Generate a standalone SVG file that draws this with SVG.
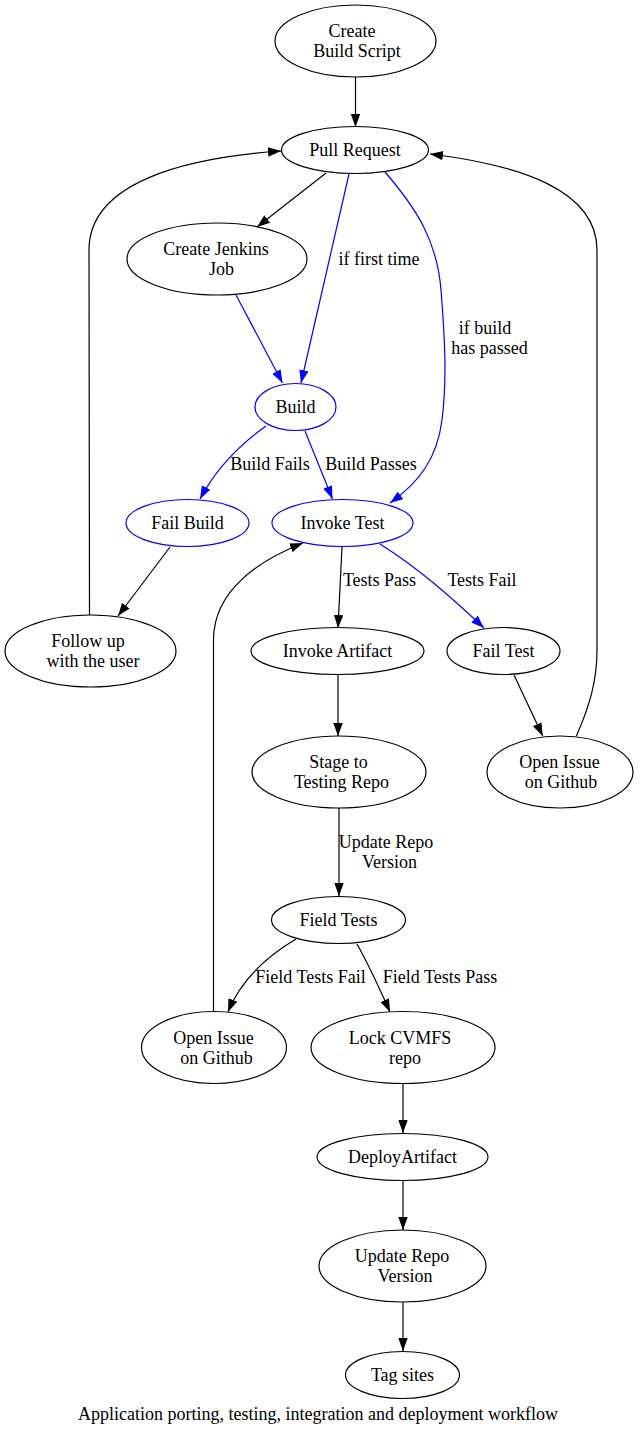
<svg xmlns="http://www.w3.org/2000/svg" width="640" height="1435" viewBox="0 0 640 1435">
<style>
text{font-family:"Liberation Serif","Times New Roman",serif;font-size:18px;fill:#000;text-anchor:middle}
.n ellipse{fill:none;stroke:#000;stroke-width:1.2}
.n.b ellipse{stroke:#0000ff}
#edges path{fill:none;stroke:#000;stroke-width:1.2}
#edges path.b{stroke:#0000ff}
</style>
<defs>
<marker id="ak" markerUnits="userSpaceOnUse" markerWidth="14" markerHeight="10" refX="13" refY="4.7" orient="auto"><path d="M0,0 L13,4.7 L0,9.4 z" fill="#000"/></marker>
<marker id="ab" markerUnits="userSpaceOnUse" markerWidth="14" markerHeight="10" refX="13" refY="4.7" orient="auto"><path d="M0,0 L13,4.7 L0,9.4 z" fill="#0000ff"/></marker>
</defs>
<rect width="640" height="1435" fill="#fff"/>
<g id="edges">
<path d="M355.5,77 L355.5,127" marker-end="url(#ak)"/>
<path d="M326,173 L257,227" marker-end="url(#ak)"/>
<path class="b" d="M349,174 L301,383" marker-end="url(#ab)"/>
<path class="b" d="M385,172 C416,208 437,240 441,290 C445,340 447,380 442,420 C437,460 418,483 390,503" marker-end="url(#ab)"/>
<path class="b" d="M236,295 L282.5,383" marker-end="url(#ab)"/>
<path class="b" d="M266,426 C242,443 218,465 200,499" marker-end="url(#ab)"/>
<path class="b" d="M305,431 L332.5,499" marker-end="url(#ab)"/>
<path d="M170,547 L118,616" marker-end="url(#ak)"/>
<path d="M89.5,615 L89,250 C89,182 185,158 281,151" marker-end="url(#ak)"/>
<path d="M342,547 L338,628" marker-end="url(#ak)"/>
<path class="b" d="M380,544 C418,568 450,596 484,628" marker-end="url(#ab)"/>
<path d="M514,675 L542.7,736" marker-end="url(#ak)"/>
<path d="M576.4,736 C590,705 597,680 597,650 L597,250 C597,190 520,165 430,154" marker-end="url(#ak)"/>
<path d="M338,675 L338,736" marker-end="url(#ak)"/>
<path d="M339,808 L339,896" marker-end="url(#ak)"/>
<path d="M296,939 C264,958 240,982 228,1012" marker-end="url(#ak)"/>
<path d="M357,944 C366,960 378,985 390,1012" marker-end="url(#ak)"/>
<path d="M213.5,1012 L213.5,640 C213.5,590 260,560 303,543" marker-end="url(#ak)"/>
<path d="M403,1083 L403,1133" marker-end="url(#ak)"/>
<path d="M403,1181 L403,1230" marker-end="url(#ak)"/>
<path d="M403,1302 L403,1351" marker-end="url(#ak)"/>
</g>
<g id="edge-labels">
<text x="379" y="265">if first time</text>
<text x="485" y="334">if build</text>
<text x="489.5" y="354">has passed</text>
<text x="270" y="470">Build Fails</text>
<text x="371" y="470">Build Passes</text>
<text x="379.5" y="586">Tests Pass</text>
<text x="482" y="586">Tests Fail</text>
<text x="386" y="848">Update Repo</text>
<text x="389.5" y="868">Version</text>
<text x="310.5" y="983">Field Tests Fail</text>
<text x="440" y="983">Field Tests Pass</text>
</g>
<g id="n1" class="n"><ellipse cx="355.5" cy="41" rx="80.5" ry="36"/><text x="352" y="37">Create</text><text x="357" y="57">Build Script</text></g>
<g id="n2" class="n"><ellipse cx="355" cy="150" rx="73.5" ry="23.5"/><text x="355" y="156">Pull Request</text></g>
<g id="n3" class="n"><ellipse cx="217" cy="259" rx="90" ry="36"/><text x="216" y="255">Create Jenkins</text><text x="221.5" y="275">Job</text></g>
<g id="n4" class="n b"><ellipse cx="295.5" cy="407" rx="40.5" ry="23.5"/><text x="295.5" y="413">Build</text></g>
<g id="n5" class="n b"><ellipse cx="187.5" cy="523" rx="61.5" ry="23.5"/><text x="187.5" y="529">Fail Build</text></g>
<g id="n6" class="n b"><ellipse cx="342.5" cy="523" rx="70.5" ry="23.5"/><text x="342.5" y="529">Invoke Test</text></g>
<g id="n7" class="n"><ellipse cx="90.5" cy="651" rx="85.5" ry="36"/><text x="88" y="647">Follow up</text><text x="93" y="667">with the user</text></g>
<g id="n8" class="n"><ellipse cx="337.5" cy="651" rx="86.5" ry="23.5"/><text x="337.5" y="657">Invoke Artifact</text></g>
<g id="n9" class="n"><ellipse cx="503.5" cy="651" rx="56.5" ry="23.5"/><text x="503.5" y="657">Fail Test</text></g>
<g id="n10" class="n"><ellipse cx="339" cy="772" rx="87" ry="36"/><text x="338.5" y="768">Stage to</text><text x="341.5" y="788">Testing Repo</text></g>
<g id="n11" class="n"><ellipse cx="560" cy="772" rx="73" ry="36"/><text x="559.5" y="768">Open Issue</text><text x="561" y="788">on Github</text></g>
<g id="n12" class="n"><ellipse cx="338.5" cy="920" rx="67" ry="23.5"/><text x="338.5" y="926">Field Tests</text></g>
<g id="n13" class="n"><ellipse cx="214" cy="1047.5" rx="72.5" ry="36"/><text x="213.5" y="1043.5">Open Issue</text><text x="216.5" y="1063.5">on Github</text></g>
<g id="n14" class="n"><ellipse cx="403" cy="1047.5" rx="92" ry="36"/><text x="400" y="1043.5">Lock CVMFS</text><text x="405" y="1063.5">repo</text></g>
<g id="n15" class="n"><ellipse cx="402.5" cy="1157" rx="85.5" ry="23.5"/><text x="402.5" y="1163">DeployArtifact</text></g>
<g id="n16" class="n"><ellipse cx="402.5" cy="1266" rx="83.5" ry="36"/><text x="402" y="1262">Update Repo</text><text x="405" y="1282">Version</text></g>
<g id="n17" class="n"><ellipse cx="402.5" cy="1375" rx="57" ry="23.5"/><text x="402.5" y="1381">Tag sites</text></g>
<text id="caption" x="318" y="1420">Application porting, testing, integration and deployment workflow</text>
</svg>
